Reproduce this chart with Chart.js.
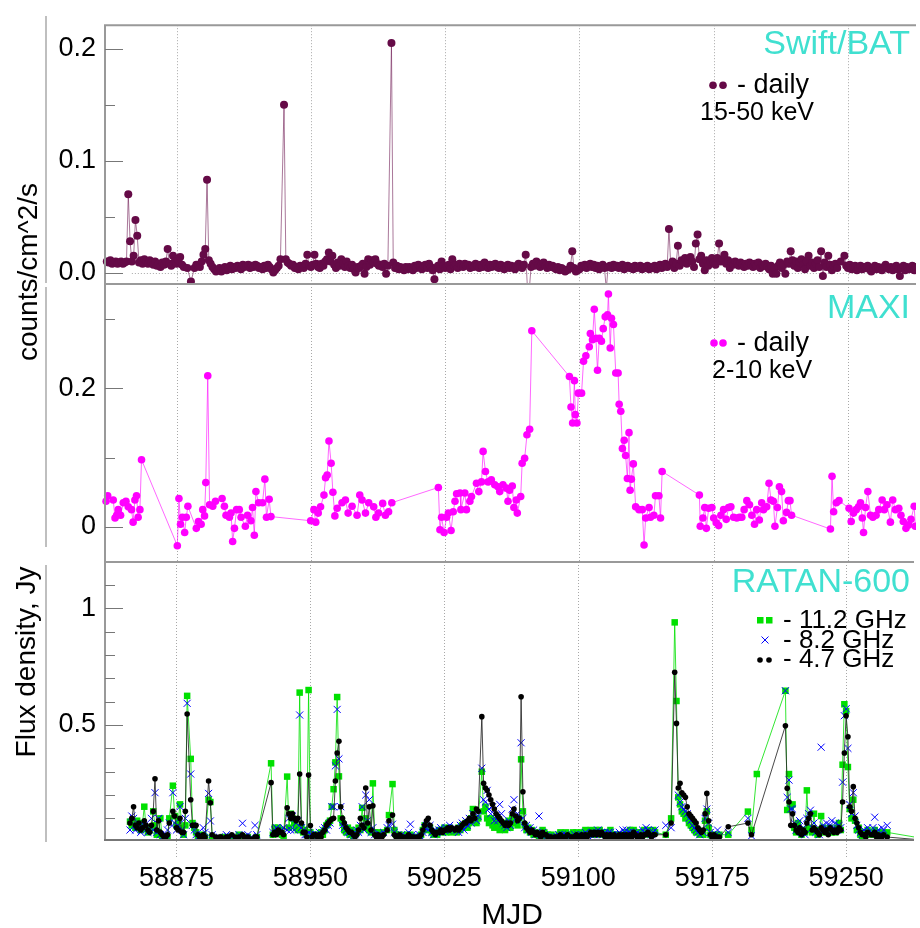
<!DOCTYPE html>
<html>
<head>
<meta charset="utf-8">
<script src="https://cdn.jsdelivr.net/npm/chart.js"></script>
<style>
  body { margin: 0; background: #fff; }
  #wrap { position: relative; width: 920px; height: 928px; }
  #wrap canvas { position: absolute; left: 0; top: 0; }
</style>
</head>
<body>
<div id="wrap">
  <canvas id="batCanvas" width="920" height="928"></canvas>
  <canvas id="maxiCanvas" width="920" height="928"></canvas>
  <canvas id="ratanCanvas" width="920" height="928"></canvas>
</div>
<script>
// Shared MJD axis.
var xMin = 58835;
var xMax = 59288;
var xTickValues = [58875, 58950, 59025, 59100, 59175, 59250];

// Y axis ticks of each panel.
var batMajor = [0, 0.1, 0.2];
var batLabels = ['0.0', '0.1', '0.2'];
var batMinor = [0.05, 0.15];
var maxiMajor = [0, 0.2];
var maxiLabels = ['0', '0.2'];
var maxiMinor = [0.1, 0.3];
var ratanMajor = [0.5, 1];
var ratanLabels = ['0.5', '1'];
var ratanMinor = [0.1, 0.2, 0.3, 0.4, 0.6, 0.7, 0.8, 0.9, 1.1];

// Swift/BAT 15-50 keV daily: [MJD, counts/cm^2/s]
var batPoints = [
  [58836, 0.010], [58837, 0.009], [58838, 0.011], [58839, 0.008], [58840, 0.009], [58841, 0.010], [58842, 0.008], [58843, 0.009],
  [58844, 0.010], [58845, 0.008], [58846, 0.009], [58847, 0.010], [58848, 0.070], [58849, 0.028], [58850, 0.010], [58851, 0.015],
  [58852, 0.047], [58853, 0.033], [58854, 0.009], [58855, 0.011], [58856, 0.008], [58857, 0.012], [58858, 0.010], [58859, 0.008],
  [58860, 0.011], [58861, 0.009], [58862, 0.007], [58863, 0.010], [58864, 0.006], [58865, 0.008], [58866, 0.005], [58867, 0.009],
  [58868, 0.007], [58869, 0.010], [58870, 0.021], [58871, 0.008], [58872, 0.006], [58873, 0.015], [58874, 0.010], [58875, 0.008],
  [58876, 0.011], [58877, 0.014], [58878, 0.007], [58879, 0.005], [58881, 0.004], [58883, -0.008], [58885, 0.004], [58886, 0.007],
  [58887, 0.006], [58888, 0.005], [58889, 0.010], [58890, 0.016], [58891, 0.021], [58892, 0.083], [58893, 0.011], [58894, 0.008],
  [58895, 0.005], [58896, 0.003], [58897, 0.001], [58898, 0.002], [58899, 0.004], [58900, 0.001], [58901, 0.003], [58902, 0.005],
  [58903, 0.002], [58904, 0.004], [58905, 0.006], [58906, 0.003], [58907, 0.005], [58908, 0.004], [58909, 0.006], [58910, 0.005],
  [58911, 0.003], [58912, 0.007], [58913, 0.005], [58914, 0.006], [58915, 0.007], [58916, 0.004], [58917, 0.006], [58918, 0.005],
  [58919, 0.007], [58920, 0.006], [58921, 0.004], [58922, 0.005], [58923, 0.003], [58924, 0.006], [58925, 0.004], [58926, 0.007],
  [58927, 0.005], [58928, 0.003], [58929, 0.000], [58930, 0.002], [58931, 0.004], [58932, 0.006], [58933, 0.012], [58935, 0.150],
  [58936, 0.012], [58937, 0.009], [58938, 0.008], [58939, 0.006], [58940, 0.007], [58941, 0.004], [58942, 0.005], [58943, 0.003],
  [58944, 0.006], [58945, 0.005], [58946, 0.004], [58947, 0.008], [58948, 0.016], [58949, 0.006], [58950, 0.005], [58951, 0.007],
  [58952, 0.016], [58953, 0.008], [58954, 0.005], [58955, 0.004], [58956, 0.008], [58957, 0.006], [58958, 0.010], [58959, 0.012],
  [58960, 0.018], [58961, 0.010], [58962, 0.015], [58963, 0.007], [58964, 0.004], [58965, 0.009], [58966, 0.006], [58967, 0.012],
  [58968, 0.008], [58969, 0.005], [58970, 0.010], [58971, 0.006], [58972, 0.004], [58973, 0.007], [58974, 0.003], [58975, 0.000],
  [58976, 0.005], [58977, 0.004], [58978, 0.006], [58979, 0.008], [58980, -0.001], [58981, 0.005], [58982, 0.012], [58983, 0.007],
  [58984, 0.011], [58985, 0.009], [58986, 0.012], [58987, 0.008], [58988, 0.006], [58989, 0.007], [58990, 0.005], [58991, 0.008],
  [58992, -0.001], [58993, 0.006], [58995, 0.205], [58996, 0.009], [58997, 0.004], [58998, 0.006], [58999, 0.003], [59000, 0.005],
  [59001, 0.004], [59002, 0.002], [59003, 0.005], [59004, 0.003], [59005, 0.005], [59006, 0.004], [59007, 0.002], [59008, 0.006],
  [59009, 0.004], [59010, 0.007], [59011, 0.005], [59012, 0.003], [59013, 0.006], [59014, 0.007], [59015, 0.004], [59016, 0.008],
  [59017, 0.005], [59018, 0.002], [59019, -0.006], [59020, 0.004], [59021, 0.006], [59022, 0.003], [59023, 0.010], [59024, 0.006],
  [59025, 0.004], [59026, 0.005], [59027, 0.007], [59028, 0.003], [59029, 0.012], [59030, 0.006], [59031, 0.007], [59032, 0.004],
  [59033, 0.008], [59034, 0.006], [59035, 0.005], [59036, 0.008], [59037, 0.006], [59038, 0.007], [59039, 0.004], [59040, 0.006],
  [59041, 0.005], [59042, 0.008], [59043, 0.006], [59044, 0.004], [59045, 0.007], [59046, 0.005], [59047, 0.009], [59048, 0.006],
  [59049, 0.004], [59050, 0.007], [59051, 0.005], [59052, 0.006], [59053, 0.008], [59054, 0.005], [59055, 0.004], [59056, 0.007],
  [59057, 0.006], [59058, 0.003], [59059, 0.005], [59060, 0.007], [59061, 0.004], [59062, 0.006], [59063, 0.005], [59064, 0.003],
  [59065, 0.006], [59066, 0.008], [59067, 0.005], [59068, 0.004], [59069, 0.007], [59070, 0.016], [59071, -0.015], [59072, -0.015],
  [59073, 0.005], [59074, 0.008], [59075, 0.006], [59076, 0.010], [59077, 0.007], [59078, 0.005], [59079, 0.008], [59080, 0.009],
  [59081, 0.006], [59082, 0.004], [59083, 0.007], [59084, 0.005], [59085, 0.006], [59086, 0.004], [59087, 0.003], [59088, 0.005],
  [59089, 0.002], [59090, 0.004], [59091, 0.003], [59092, 0.001], [59093, 0.002], [59094, 0.003], [59095, 0.006], [59096, 0.019],
  [59097, 0.004], [59098, 0.001], [59099, 0.002], [59100, 0.003], [59101, 0.006], [59102, 0.005], [59103, 0.007], [59104, 0.004],
  [59105, 0.006], [59106, 0.008], [59107, 0.005], [59108, 0.007], [59109, 0.004], [59110, 0.006], [59111, 0.003], [59112, 0.005],
  [59113, 0.007], [59114, 0.004], [59115, -0.015], [59116, 0.005], [59117, 0.006], [59118, 0.004], [59119, 0.007], [59120, 0.005],
  [59121, 0.006], [59122, 0.004], [59123, 0.005], [59124, 0.007], [59125, 0.003], [59126, 0.005], [59127, 0.006], [59128, 0.004],
  [59129, 0.005], [59130, 0.003], [59131, 0.006], [59132, 0.004], [59133, 0.005], [59134, 0.006], [59135, 0.003], [59136, 0.005],
  [59137, 0.004], [59138, 0.006], [59139, 0.003], [59140, 0.005], [59141, 0.004], [59142, 0.006], [59143, 0.003], [59144, 0.005],
  [59145, 0.007], [59146, 0.004], [59147, 0.006], [59148, 0.008], [59149, 0.005], [59150, 0.039], [59151, 0.007], [59152, 0.010],
  [59153, 0.004], [59154, 0.008], [59155, 0.024], [59156, 0.006], [59157, 0.011], [59158, 0.009], [59159, 0.013], [59160, 0.008],
  [59161, 0.012], [59162, 0.014], [59163, 0.010], [59164, 0.005], [59165, 0.026], [59166, 0.034], [59167, 0.012], [59168, 0.015],
  [59169, 0.008], [59170, 0.002], [59171, 0.011], [59172, 0.006], [59173, 0.010], [59174, 0.013], [59175, 0.009], [59176, 0.007],
  [59177, 0.013], [59178, 0.026], [59179, 0.010], [59180, 0.012], [59181, 0.016], [59182, 0.008], [59183, 0.011], [59184, 0.004],
  [59185, 0.009], [59186, 0.007], [59187, 0.010], [59188, 0.008], [59189, 0.006], [59190, 0.009], [59191, 0.007], [59192, 0.005],
  [59193, 0.008], [59194, 0.006], [59195, 0.009], [59196, 0.007], [59197, 0.005], [59198, 0.008], [59199, 0.006], [59200, 0.009],
  [59201, 0.004], [59202, 0.007], [59203, 0.006], [59204, 0.008], [59205, 0.005], [59206, 0.003], [59207, 0.006], [59208, -0.001],
  [59209, 0.004], [59210, -0.001], [59211, 0.006], [59212, 0.009], [59213, 0.004], [59214, 0.007], [59215, -0.001], [59216, 0.010],
  [59217, 0.008], [59218, 0.019], [59219, 0.011], [59220, 0.006], [59221, 0.010], [59222, 0.004], [59223, 0.009], [59224, 0.012],
  [59225, 0.007], [59226, 0.003], [59227, 0.010], [59228, 0.015], [59229, 0.006], [59230, 0.009], [59231, 0.004], [59232, 0.008],
  [59233, 0.011], [59234, 0.005], [59235, 0.019], [59236, -0.003], [59237, 0.009], [59238, 0.005], [59239, 0.015], [59240, 0.007],
  [59241, 0.002], [59242, 0.006], [59243, 0.008], [59244, 0.004], [59246, 0.010], [59248, 0.015], [59249, 0.006], [59250, 0.004],
  [59251, 0.007], [59252, 0.003], [59253, 0.005], [59254, 0.006], [59255, 0.002], [59256, 0.004], [59257, 0.006], [59258, 0.003],
  [59259, 0.005], [59260, 0.004], [59261, 0.006], [59262, 0.003], [59263, 0.001], [59264, 0.004], [59265, 0.006], [59266, 0.003],
  [59267, 0.005], [59268, 0.004], [59269, 0.002], [59270, 0.005], [59271, 0.007], [59272, 0.004], [59273, 0.003], [59274, 0.005],
  [59275, 0.002], [59276, 0.004], [59277, 0.006], [59278, 0.003], [59279, -0.003], [59280, 0.004], [59281, 0.006], [59282, 0.002],
  [59283, 0.005], [59284, 0.003], [59285, 0.004], [59286, 0.006], [59287, 0.002], [59288, 0.005]
];

// MAXI 2-10 keV daily: [MJD, counts/cm^2/s]
var maxiPoints = [
  [58835.6, 0.037], [58836.5, 0.045], [58839.6, 0.039], [58840.6, 0.013], [58841.5, 0.017], [58842.4, 0.025], [58843.7, 0.017],
  [58845.2, 0.035], [58846.7, 0.037], [58848.0, 0.029], [58849.8, 0.025], [58850.7, 0.007], [58851.7, 0.039], [58852.6, 0.045],
  [58853.5, 0.014], [58854.5, 0.025], [58855.4, 0.097], [58875.4, -0.027], [58876.3, 0.041], [58877.2, 0.004], [58878.2, 0.014],
  [58879.5, -0.008], [58880.4, 0.014], [58881.3, 0.030], [58886.0, -0.002], [58887.2, 0.008], [58888.7, 0.004], [58889.6, 0.025],
  [58890.6, 0.016], [58891.3, 0.064], [58892.4, 0.218], [58893.4, 0.032], [58895.2, 0.030], [58896.7, 0.037], [58900.4, 0.041],
  [58901.7, 0.030], [58902.6, 0.017], [58904.5, 0.014], [58905.4, 0.020], [58906.3, -0.021], [58907.3, -0.002], [58908.5, 0.025],
  [58910.0, 0.025], [58911.0, 0.014], [58913.4, 0.001], [58914.6, 0.017], [58916.5, 0.009], [58917.4, 0.028], [58918.4, -0.012],
  [58919.3, 0.051], [58920.8, 0.035], [58923.0, 0.035], [58924.3, 0.069], [58925.2, 0.014], [58926.7, 0.040], [58927.7, 0.015],
  [58949.9, 0.009], [58951.7, 0.025], [58952.7, 0.007], [58954.1, 0.020], [58955.4, 0.029], [58957.3, 0.046], [58958.2, 0.071],
  [58959.1, 0.075], [58960.1, 0.124], [58961.3, 0.092], [58962.3, 0.050], [58963.4, 0.016], [58964.7, 0.027], [58967.4, 0.035],
  [58969.3, 0.039], [58970.8, 0.020], [58973.0, 0.030], [58975.8, 0.017], [58977.3, 0.046], [58978.6, 0.039], [58980.5, 0.020],
  [58982.3, 0.035], [58985.1, 0.029], [58986.3, 0.014], [58987.8, 0.020], [58990.1, 0.034], [58991.6, 0.017], [58993.4, 0.022],
  [58995.2, 0.035], [59021.2, 0.057], [59022.1, -0.004], [59023.0, 0.014], [59024.4, -0.008], [59025.8, 0.014], [59026.8, 0.020],
  [59028.3, -0.005], [59029.5, 0.022], [59030.5, 0.037], [59031.4, 0.048], [59033.3, 0.049], [59033.8, 0.025], [59036.0, 0.049],
  [59036.9, 0.025], [59038.8, 0.037], [59039.7, 0.044], [59042.5, 0.063], [59043.8, 0.051], [59045.3, 0.065], [59046.2, 0.109],
  [59047.5, 0.080], [59049.0, 0.065], [59050.8, 0.068], [59052.7, 0.061], [59054.5, 0.058], [59055.5, 0.051], [59057.3, 0.061],
  [59059.2, 0.056], [59060.1, 0.037], [59061.0, 0.053], [59062.5, 0.059], [59063.4, 0.028], [59064.7, 0.039], [59065.3, 0.020],
  [59067.2, 0.044], [59068.0, 0.092], [59069.4, 0.099], [59070.7, 0.133], [59072.2, 0.141], [59073.4, 0.283], [59094.4, 0.217],
  [59095.3, 0.173], [59096.2, 0.150], [59097.2, 0.211], [59097.7, 0.162], [59098.6, 0.150], [59099.4, 0.193], [59101.2, 0.193],
  [59102.3, 0.239], [59103.6, 0.247], [59105.5, 0.260], [59106.1, 0.279], [59107.3, 0.270], [59108.3, 0.314], [59109.2, 0.272],
  [59110.1, 0.226], [59111.1, 0.272], [59112.3, 0.268], [59113.3, 0.286], [59114.4, 0.303], [59115.7, 0.306], [59116.2, 0.336],
  [59117.2, 0.258], [59117.9, 0.301], [59119.0, 0.292], [59120.3, 0.222], [59121.6, 0.222], [59122.2, 0.177], [59123.1, 0.167],
  [59124.0, 0.113], [59125.0, 0.125], [59125.8, 0.103], [59126.8, 0.070], [59127.7, 0.136], [59128.3, 0.053], [59129.0, 0.069],
  [59130.1, 0.091], [59131.4, 0.029], [59133.3, 0.025], [59135.1, 0.025], [59136.1, -0.026], [59137.0, 0.013], [59138.9, 0.028],
  [59139.7, 0.014], [59141.6, 0.017], [59142.5, 0.045], [59144.4, 0.045], [59145.3, 0.013], [59146.2, 0.080], [59167.0, 0.046],
  [59167.5, 0.001], [59169.0, 0.013], [59170.0, 0.028], [59170.9, -0.002], [59172.2, 0.027], [59174.0, 0.028], [59175.0, 0.013],
  [59176.4, 0.006], [59177.8, 0.002], [59179.0, 0.017], [59180.5, 0.025], [59182.0, 0.011], [59183.3, 0.028], [59184.6, 0.029],
  [59186.1, 0.014], [59187.9, 0.013], [59189.4, 0.014], [59190.7, 0.014], [59192.0, 0.025], [59193.5, 0.038], [59195.0, 0.032],
  [59196.3, 0.017], [59197.8, 0.004], [59199.0, 0.025], [59200.5, 0.010], [59201.8, 0.035], [59202.8, 0.025], [59204.6, 0.029],
  [59205.9, 0.063], [59207.0, 0.039], [59208.3, 0.037], [59209.2, 0.001], [59210.6, 0.028], [59211.7, 0.058], [59212.9, 0.051],
  [59213.9, 0.009], [59215.7, 0.021], [59216.7, 0.038], [59217.6, 0.038], [59218.5, 0.017], [59240.2, -0.003], [59241.1, 0.073],
  [59242.0, 0.022], [59243.5, 0.035], [59245.0, 0.038], [59250.6, 0.027], [59251.8, 0.008], [59253.1, 0.020], [59254.6, 0.025],
  [59255.9, 0.029], [59257.0, 0.035], [59258.0, 0.013], [59258.7, -0.008], [59259.8, 0.028], [59261.1, 0.051], [59262.6, 0.017],
  [59263.9, 0.014], [59265.7, 0.017], [59267.2, 0.025], [59269.1, 0.039], [59270.3, 0.025], [59271.8, 0.032], [59273.7, 0.007],
  [59275.0, 0.039], [59276.5, 0.025], [59278.4, 0.027], [59279.6, 0.017], [59280.9, 0.008], [59282.4, -0.002], [59283.9, 0.003],
  [59285.2, 0.011], [59287.0, 0.030], [59287.6, 0.001]
];

// RATAN-600 flux density, Jy: [MJD, 11.2 GHz, 8.2 GHz, 4.7 GHz]
var ratanRows = [
  [58849, 0.086, 0.05, 0.08], [58850, 0.07, 0.11, 0.10], [58851, 0.08, 0.10, 0.15], [58852, 0.06, 0.05, 0.07],
  [58853, 0.09, 0.07, 0.06], [58854, 0.07, 0.06, 0.08], [58855, 0.05, 0.04, 0.05], [58856, 0.08, 0.06, 0.06],
  [58857, 0.15, 0.07, 0.09], [58858, 0.06, 0.05, 0.07], [58859, 0.04, 0.04, 0.05], [58860, 0.05, 0.05, 0.04],
  [58861, 0.06, 0.10, 0.07], [58862, 0.13, 0.05, 0.13], [58863, 0.07, 0.21, 0.27], [58864, 0.03, 0.04, 0.05],
  [58865, 0.04, 0.10, 0.09], [58866, 0.10, 0.03, 0.04], [58867, 0.02, 0.02, 0.03], [58868, 0.02, 0.02, 0.02],
  [58869, 0.02, 0.03, 0.02], [58870, 0.02, 0.05, 0.03], [58871, 0.10, 0.08, 0.08], [58873, 0.24, 0.21, 0.13],
  [58874, 0.11, 0.08, 0.11], [58875, 0.07, 0.05, 0.06], [58876, 0.09, 0.07, 0.05], [58877, 0.16, 0.15, 0.10],
  [58878, 0.06, 0.05, 0.04], [58879, 0.03, 0.03, 0.04], [58880, 0.07, 0.10, 0.13], [58881, 0.625, 0.593, 0.547],
  [58883, 0.355, 0.29, 0.18], [58884, 0.08, 0.07, 0.07], [58885, 0.06, 0.05, 0.07], [58886, 0.04, 0.03, 0.07],
  [58887, 0.02, 0.02, 0.03], [58888, 0.01, 0.02, 0.02], [58889, 0.02, 0.03, 0.02], [58890, 0.03, 0.06, 0.03],
  [58891, 0.02, 0.04, 0.02], [58893, 0.18, 0.207, 0.26], [58894, 0.17, 0.089, 0.167], [58895, 0.02, 0.03, 0.03],
  [58897, 0.01, 0.01, 0.02], [58899, 0.01, 0.02, 0.02], [58900, 0.01, 0.01, 0.02], [58901, 0.02, 0.01, 0.01],
  [58903, 0.01, 0.03, 0.02], [58904, 0.02, 0.02, 0.02], [58906, 0.01, 0.02, 0.03], [58908, 0.01, 0.01, 0.02],
  [58910, 0.03, 0.03, 0.02], [58912, 0.02, 0.079, 0.03], [58913, 0.01, 0.02, 0.02], [58915, 0.02, 0.03, 0.02],
  [58917, 0.01, 0.02, 0.01], [58919, 0.01, 0.07, 0.02], [58920, 0.02, 0.03, 0.02], [58928, 0.336, null, 0.253],
  [58929, 0.03, 0.04, 0.03], [58930, 0.06, 0.05, 0.04], [58931, 0.05, 0.06, 0.03], [58932, 0.06, 0.05, 0.05],
  [58933, 0.05, 0.04, 0.04], [58934, 0.03, 0.05, 0.04], [58935, 0.02, 0.06, 0.03], [58937, 0.279, 0.05, 0.145],
  [58938, 0.06, 0.10, 0.12], [58939, 0.12, 0.05, 0.10], [58940, 0.10, 0.11, 0.12], [58941, 0.08, 0.05, 0.10],
  [58942, 0.06, 0.08, 0.09], [58943, 0.05, 0.09, 0.10], [58944, 0.639, 0.543, 0.29], [58945, 0.06, 0.06, 0.08],
  [58946, 0.04, 0.05, 0.04], [58947, 0.05, 0.03, 0.04], [58948, 0.03, 0.03, 0.02], [58949, 0.65, 0.04, 0.286],
  [58950, 0.04, 0.03, 0.069], [58951, 0.02, 0.03, 0.02], [58952, 0.03, 0.02, 0.03], [58953, 0.02, 0.03, 0.03],
  [58954, 0.03, 0.02, 0.02], [58955, 0.02, 0.04, 0.03], [58956, 0.04, 0.02, 0.02], [58957, 0.03, 0.05, 0.04],
  [58958, 0.05, 0.06, 0.05], [58959, 0.07, 0.05, 0.07], [58960, 0.08, 0.07, 0.08], [58961, 0.09, 0.08, 0.09],
  [58962, 0.15, 0.15, 0.097], [58963, 0.225, 0.15, 0.10], [58964, 0.34, 0.325, 0.26], [58965, 0.62, 0.567, 0.38],
  [58966, 0.28, 0.355, 0.43], [58967, 0.10, 0.15, 0.15], [58968, 0.08, 0.07, 0.10], [58969, 0.05, 0.06, 0.08],
  [58970, 0.04, 0.05, 0.06], [58971, 0.06, 0.04, 0.05], [58972, 0.03, 0.04, 0.04], [58973, 0.05, 0.03, 0.04],
  [58974, 0.02, 0.02, 0.03], [58975, 0.03, 0.03, 0.02], [58976, 0.04, 0.05, 0.03], [58977, 0.06, 0.04, 0.05],
  [58978, 0.05, 0.07, 0.10], [58979, 0.145, 0.15, 0.07], [58980, 0.06, 0.05, 0.06], [58981, 0.10, 0.20, 0.23],
  [58982, 0.07, 0.09, 0.08], [58983, 0.05, 0.18, 0.15], [58984, 0.04, 0.04, 0.05], [58985, 0.25, 0.06, 0.154],
  [58986, 0.04, 0.03, 0.03], [58987, 0.03, 0.02, 0.02], [58988, 0.04, 0.03, 0.03], [58989, 0.02, 0.03, 0.02],
  [58990, 0.03, 0.02, 0.02], [58991, 0.04, 0.04, 0.03], [58993, 0.05, 0.06, 0.05], [58994, 0.114, 0.07, 0.09],
  [58996, 0.247, 0.075, 0.114], [58997, 0.05, 0.04, 0.03], [58998, 0.03, 0.02, 0.02], [58999, 0.02, 0.03, 0.02],
  [59000, 0.03, 0.02, 0.03], [59001, 0.02, 0.03, 0.02], [59002, 0.01, 0.02, 0.02], [59003, 0.02, 0.01, 0.01],
  [59004, 0.03, 0.02, 0.02], [59005, 0.02, 0.04, 0.03], [59006, 0.03, 0.075, 0.02], [59007, 0.02, 0.03, 0.02],
  [59008, 0.01, 0.02, 0.02], [59009, 0.02, 0.01, 0.01], [59010, 0.02, 0.02, 0.02], [59011, 0.01, 0.03, 0.02],
  [59012, 0.03, 0.02, 0.03], [59013, 0.05, 0.04, 0.05], [59014, 0.07, 0.06, 0.07], [59015, 0.05, 0.07, 0.09],
  [59016, 0.06, 0.05, 0.10], [59017, 0.06, 0.07, 0.07], [59018, 0.04, 0.04, 0.05], [59019, 0.03, 0.03, 0.04],
  [59020, 0.04, 0.05, 0.03], [59021, 0.03, 0.04, 0.04], [59022, 0.05, 0.05, 0.04], [59023, 0.04, 0.06, 0.05],
  [59024, 0.05, 0.04, 0.04], [59025, 0.06, 0.05, 0.05], [59026, 0.04, 0.06, 0.05], [59027, 0.05, 0.05, 0.06],
  [59028, 0.06, 0.07, 0.05], [59029, 0.04, 0.05, 0.06], [59031, 0.05, 0.06, 0.05], [59032, 0.04, 0.05, 0.06],
  [59033, 0.06, 0.04, 0.05], [59034, 0.05, 0.07, 0.06], [59035, 0.07, 0.08, 0.07], [59036, 0.06, 0.05, 0.08],
  [59037, 0.08, 0.09, 0.08], [59038, 0.06, 0.07, 0.09], [59039, 0.08, 0.10, 0.10], [59040, 0.10, 0.08, 0.09],
  [59041, 0.14, 0.12, 0.12], [59042, 0.09, 0.10, 0.10], [59043, 0.08, 0.09, 0.14], [59044, 0.10, 0.11, 0.13],
  [59046, 0.30, 0.315, 0.536], [59047, 0.13, 0.18, 0.25], [59048, 0.15, 0.17, 0.23], [59049, 0.10, 0.22, 0.22],
  [59050, 0.08, 0.14, 0.20], [59051, 0.10, 0.12, 0.18], [59052, 0.07, 0.15, 0.16], [59053, 0.06, 0.09, 0.14],
  [59054, 0.09, 0.11, 0.12], [59055, 0.07, 0.09, 0.11], [59056, 0.05, 0.16, 0.10], [59057, 0.08, 0.12, 0.09],
  [59058, 0.06, 0.08, 0.08], [59059, 0.05, 0.07, 0.07], [59060, 0.08, 0.06, 0.08], [59061, 0.09, 0.09, 0.07],
  [59062, 0.06, 0.07, 0.08], [59063, 0.10, 0.14, 0.12], [59064, 0.08, 0.18, 0.14], [59065, 0.09, 0.10, 0.11],
  [59066, 0.07, 0.12, 0.09], [59067, 0.10, 0.09, 0.10], [59068, 0.353, 0.424, 0.621], [59069, 0.13, 0.10, 0.214],
  [59070, 0.07, 0.06, 0.08], [59071, 0.05, 0.07, 0.06], [59072, 0.06, 0.05, 0.05], [59073, 0.04, 0.06, 0.04],
  [59074, 0.05, 0.04, 0.05], [59075, 0.03, 0.05, 0.04], [59076, 0.04, 0.03, 0.03], [59077, 0.03, 0.04, 0.04],
  [59078, 0.02, 0.11, 0.03], [59079, 0.03, 0.03, 0.02], [59080, 0.05, 0.04, 0.04], [59081, 0.04, 0.03, 0.03],
  [59082, 0.02, 0.02, 0.03], [59083, 0.03, 0.02, 0.02], [59084, 0.02, 0.01, 0.02], [59085, 0.03, 0.02, 0.02],
  [59086, 0.02, 0.02, 0.01], [59087, 0.01, 0.01, 0.02], [59088, 0.02, 0.02, 0.02], [59089, 0.03, 0.03, 0.02],
  [59090, 0.04, 0.02, 0.03], [59091, 0.02, 0.03, 0.02], [59092, 0.03, 0.02, 0.02], [59093, 0.04, 0.03, 0.02],
  [59094, 0.03, 0.02, 0.03], [59096, 0.02, 0.01, 0.02], [59097, 0.04, 0.02, 0.02], [59098, 0.03, 0.03, 0.02],
  [59099, 0.04, 0.02, 0.03], [59100, 0.03, 0.03, 0.02], [59101, 0.02, 0.02, 0.02], [59102, 0.04, 0.03, 0.03],
  [59103, 0.03, 0.02, 0.02], [59104, 0.05, 0.04, 0.03], [59105, 0.04, 0.03, 0.02], [59106, 0.03, 0.02, 0.03],
  [59107, 0.05, 0.03, 0.04], [59108, 0.04, 0.04, 0.03], [59109, 0.03, 0.03, 0.04], [59110, 0.05, 0.04, 0.03],
  [59111, 0.04, 0.05, 0.04], [59112, 0.05, 0.03, 0.03], [59113, 0.03, 0.04, 0.04], [59114, 0.04, 0.03, 0.03],
  [59115, 0.03, 0.04, 0.02], [59116, 0.04, 0.03, 0.03], [59117, 0.03, 0.04, 0.02], [59118, 0.05, 0.04, 0.03],
  [59119, 0.03, 0.03, 0.02], [59120, 0.02, 0.03, 0.03], [59121, 0.03, 0.02, 0.02], [59122, 0.02, 0.03, 0.02],
  [59123, 0.03, 0.04, 0.03], [59124, 0.02, 0.03, 0.02], [59125, 0.03, 0.05, 0.03], [59126, 0.02, 0.04, 0.02],
  [59127, 0.04, 0.05, 0.03], [59128, 0.03, 0.04, 0.02], [59129, 0.05, 0.04, 0.03], [59130, 0.04, 0.03, 0.02],
  [59131, 0.05, 0.04, 0.04], [59132, 0.03, 0.03, 0.03], [59133, 0.04, 0.04, 0.02], [59134, 0.03, 0.02, 0.02],
  [59135, 0.04, 0.03, 0.03], [59136, 0.03, 0.05, 0.02], [59137, 0.05, 0.04, 0.03], [59138, 0.04, 0.06, 0.03],
  [59139, 0.05, 0.05, 0.04], [59140, 0.03, 0.04, 0.03], [59141, 0.04, 0.03, 0.02], [59142, 0.05, 0.04, 0.03],
  [59143, 0.04, 0.05, 0.03], [59149, 0.03, 0.07, 0.03], [59152, 0.10, 0.06, 0.08], [59154, 0.94, null, 0.726],
  [59155, 0.603, null, 0.507], [59156, 0.19, 0.20, 0.23], [59157, 0.16, 0.17, 0.25], [59158, 0.13, 0.15, 0.21],
  [59159, 0.12, 0.14, 0.20], [59160, 0.10, 0.13, 0.19], [59161, 0.11, 0.12, 0.15], [59162, 0.08, 0.10, 0.12],
  [59163, 0.07, 0.09, 0.11], [59164, 0.06, 0.07, 0.10], [59165, 0.05, 0.06, 0.09], [59166, 0.04, 0.05, 0.08],
  [59167, 0.05, 0.04, 0.06], [59168, 0.03, 0.03, 0.05], [59169, 0.04, 0.05, 0.04], [59170, 0.03, 0.04, 0.05],
  [59171, 0.09, 0.10, 0.12], [59172, 0.13, 0.14, 0.207], [59173, 0.06, 0.08, 0.09], [59174, 0.03, 0.04, 0.03],
  [59175, 0.02, 0.03, 0.02], [59176, 0.02, 0.02, 0.03], [59177, 0.03, 0.03, 0.02], [59178, 0.02, 0.05, 0.02],
  [59179, 0.03, 0.02, 0.02], [59184, 0.03, 0.04, 0.064], [59195, 0.129, 0.10, 0.08], [59197, 0.05, 0.025, 0.03],
  [59200, 0.29, null, null], [59216, 0.647, 0.647, 0.497], [59217, 0.136, 0.19, 0.229], [59218, 0.29, 0.264, 0.17],
  [59219, 0.15, 0.14, 0.07], [59220, 0.16, 0.14, 0.12], [59221, 0.06, 0.08, 0.07], [59222, 0.04, 0.05, 0.05],
  [59223, 0.08, 0.06, 0.04], [59224, 0.05, 0.09, 0.06], [59225, 0.03, 0.04, 0.03], [59226, 0.05, 0.06, 0.05],
  [59227, 0.04, 0.03, 0.04], [59228, 0.22, 0.10, 0.08], [59229, 0.06, 0.12, 0.10], [59230, 0.05, 0.135, 0.12],
  [59231, 0.04, 0.06, 0.05], [59232, 0.12, 0.08, 0.06], [59233, 0.05, 0.04, 0.05], [59234, 0.03, 0.05, 0.04],
  [59235, 0.04, 0.03, 0.03], [59236, 0.11, 0.405, 0.06], [59237, 0.06, 0.07, 0.05], [59238, 0.04, 0.06, 0.04],
  [59239, 0.05, 0.08, 0.05], [59240, 0.04, 0.05, 0.03], [59241, 0.06, 0.07, 0.06], [59242, 0.04, 0.09, 0.05],
  [59243, 0.05, 0.06, 0.04], [59244, 0.04, 0.08, 0.05], [59245, 0.06, 0.05, 0.04], [59246, 0.08, 0.07, 0.06],
  [59247, 0.05, 0.06, 0.05], [59248, 0.33, 0.255, 0.17], [59249, 0.589, 0.54, 0.38], [59250, 0.56, 0.57, 0.54],
  [59251, 0.32, 0.40, 0.45], [59252, 0.14, 0.16, 0.15], [59253, 0.10, 0.12, 0.13], [59254, 0.18, 0.21, 0.236],
  [59255, 0.09, 0.11, 0.10], [59256, 0.05, 0.07, 0.08], [59257, 0.06, 0.05, 0.06], [59258, 0.03, 0.04, 0.04],
  [59259, 0.02, 0.03, 0.03], [59260, 0.04, 0.05, 0.03], [59261, 0.03, 0.02, 0.02], [59262, 0.05, 0.06, 0.04],
  [59264, 0.03, 0.04, 0.03], [59265, 0.04, 0.06, 0.03], [59266, 0.05, 0.105, 0.04], [59267, 0.03, 0.04, 0.02],
  [59268, 0.04, 0.05, 0.03], [59269, 0.02, 0.03, 0.02], [59270, 0.03, 0.06, 0.02], [59271, 0.04, 0.05, 0.03],
  [59273, 0.04, 0.07, 0.02], [59296, 0.01, null, 0.005]
];

var fontFamily = '"Liberation Sans", Arial, Helvetica, sans-serif';
var titleColor = '#40e0d0';
var batColor = '#650a47';
var maxiColor = '#ff00ff';
var greenColor = '#00e000';
var blueColor = '#0000ff';
var blackColor = '#000000';

Chart.defaults.font.family = fontFamily;
Chart.defaults.color = '#000';

/**
 * @description Points of one column of a table, skipping empty cells.
 */
function columnPoints(rows, col) {
  return rows
    .filter(function (row) { return row[col] !== null; })
    .map(function (row) { return { x: row[0], y: row[col] }; });
}

function pairPoints(pairs) {
  return pairs.map(function (p) { return { x: p[0], y: p[1] }; });
}

function hLine(ctx, x1, x2, y) {
  ctx.beginPath();
  ctx.moveTo(x1, y);
  ctx.lineTo(x2, y);
  ctx.stroke();
}

function vLine(ctx, x, y1, y2) {
  ctx.beginPath();
  ctx.moveTo(x, y1);
  ctx.lineTo(x, y2);
  ctx.stroke();
}

function dot(ctx, x, y, r, color) {
  ctx.fillStyle = color;
  ctx.beginPath();
  ctx.arc(x, y, r, 0, Math.PI * 2);
  ctx.fill();
}

/**
 * @description Grid, frame, inward ticks, panel title and legend.
 */
var panelPlugin = {
  id: 'panelDecor',
  beforeDatasetsDraw: function (chart, args, opts) {
    var ctx = chart.ctx;
    var area = chart.chartArea;
    var xScale = chart.scales.x;
    ctx.save();
    ctx.strokeStyle = '#a8a8a8';
    ctx.lineWidth = 1;
    ctx.setLineDash([1, 2]);
    xTickValues.forEach(function (v) {
      var x = Math.round(xScale.getPixelForValue(v)) + 0.5;
      vLine(ctx, x, area.top, area.bottom + (opts.gridExtra || 0));
    });
    if (opts.zeroFrom) {
      var y0 = Math.round(chart.scales.y.getPixelForValue(0)) + 0.5;
      hLine(ctx, xScale.getPixelForValue(opts.zeroFrom), area.right, y0);
    }
    ctx.restore();
  },
  afterDraw: function (chart, args, opts) {
    var ctx = chart.ctx;
    var area = chart.chartArea;
    var yScale = chart.scales.y;
    ctx.save();

    // Frame.
    ctx.strokeStyle = '#999';
    ctx.lineWidth = 2;
    hLine(ctx, area.left - 1, area.right, area.top);
    vLine(ctx, area.left, area.top, area.bottom);
    if (opts.bottomLine) {
      ctx.strokeStyle = '#777';
      hLine(ctx, area.left - 1, area.right, area.bottom);
    }

    // Inward ticks.
    ctx.strokeStyle = '#777';
    ctx.lineWidth = 1;
    opts.major.forEach(function (v) {
      var y = Math.round(yScale.getPixelForValue(v)) + 0.5;
      hLine(ctx, area.left, area.left + 18, y);
    });
    opts.minor.forEach(function (v) {
      var y = Math.round(yScale.getPixelForValue(v)) + 0.5;
      hLine(ctx, area.left, area.left + 10, y);
    });

    // Panel title.
    ctx.fillStyle = titleColor;
    ctx.font = '34px ' + fontFamily;
    ctx.textAlign = 'right';
    ctx.textBaseline = 'alphabetic';
    ctx.fillText(opts.title, 910, area.top + opts.titleDy);

    if (opts.legend) {
      opts.legend(ctx, area);
    }
    ctx.restore();
  }
};

/**
 * @description Axis titles shared by the panels.
 */
var pagePlugin = {
  id: 'pageDecor',
  afterDraw: function (chart) {
    var ctx = chart.ctx;
    ctx.save();
    ctx.strokeStyle = '#aaa';
    ctx.lineWidth = 1.5;
    vLine(ctx, 46, 16, 283);
    vLine(ctx, 46, 287, 547);
    vLine(ctx, 46, 565, 842);

    ctx.fillStyle = '#000';
    ctx.font = '28px ' + fontFamily;
    ctx.textAlign = 'center';
    ctx.textBaseline = 'alphabetic';
    ctx.save();
    ctx.translate(37, 272);
    ctx.rotate(-Math.PI / 2);
    ctx.fillText('counts/cm^2/s', 0, 0);
    ctx.restore();
    ctx.save();
    ctx.translate(35, 662);
    ctx.rotate(-Math.PI / 2);
    ctx.fillText('Flux density, Jy', 0, 0);
    ctx.restore();

    ctx.font = '30px ' + fontFamily;
    ctx.fillText('MJD', 512, 924);
    ctx.restore();
  }
};

function yAxis(min, max, major, labels) {
  return {
    type: 'linear',
    position: 'left',
    min: min,
    max: max,
    afterFit: function (scale) { scale.width = 105; },
    afterBuildTicks: function (scale) {
      scale.ticks = major.map(function (v) { return { value: v }; });
    },
    grid: { display: false, drawTicks: false },
    border: { display: false },
    ticks: {
      autoSkip: false,
      padding: 9,
      color: '#000',
      font: { size: 27 },
      callback: function (value, index) { return labels[index]; }
    }
  };
}

function xAxis(showLabels) {
  return {
    type: 'linear',
    position: 'bottom',
    min: xMin,
    max: xMax,
    display: showLabels,
    afterFit: function (scale) { scale.height = showLabels ? 88 : 0; },
    afterBuildTicks: function (scale) {
      scale.ticks = xTickValues.map(function (v) { return { value: v }; });
    },
    grid: { display: false, drawTicks: false },
    border: { display: false },
    ticks: {
      autoSkip: false,
      maxRotation: 0,
      padding: 22,
      color: '#000',
      font: { size: 27 },
      callback: function (value) { return String(value); }
    }
  };
}

function makePanel(canvasId, padTop, padBottom, datasets, yScale, showX, decor, extraPlugins) {
  return new Chart(document.getElementById(canvasId), {
    type: 'line',
    data: { datasets: datasets },
    options: {
      responsive: false,
      animation: false,
      devicePixelRatio: 1,
      layout: { padding: { top: padTop, bottom: padBottom, left: 0, right: 0 } },
      scales: { x: xAxis(showX), y: yScale },
      plugins: {
        legend: { display: false },
        tooltip: { enabled: false },
        panelDecor: decor
      }
    },
    plugins: [panelPlugin].concat(extraPlugins || [])
  });
}

// Swift/BAT panel.
makePanel('batCanvas', 5, 644, [{
  data: pairPoints(batPoints),
  borderColor: 'rgba(101,10,71,0.55)',
  borderWidth: 1,
  pointRadius: 4,
  pointBackgroundColor: batColor,
  pointBorderWidth: 0,
  clip: { left: 4, top: 0, right: 0, bottom: 0 }
}], yAxis(-0.0102, 0.221, batMajor, batLabels), false, {
  major: batMajor,
  minor: batMinor,
  title: 'Swift/BAT',
  titleDy: 29,
  zeroFrom: 58850,
  legend: function (ctx, area) {
    dot(ctx, 713, area.top + 60, 3.8, batColor);
    dot(ctx, 723, area.top + 60, 3.8, batColor);
    ctx.fillStyle = '#000';
    ctx.textAlign = 'left';
    ctx.font = '27px ' + fontFamily;
    ctx.fillText('- daily', 737, area.top + 68);
    ctx.font = '25px ' + fontFamily;
    ctx.fillText('15-50 keV', 700, area.top + 95);
  }
});

// MAXI panel.
makePanel('maxiCanvas', 284, 366, [{
  data: pairPoints(maxiPoints),
  borderColor: 'rgba(255,0,255,0.6)',
  borderWidth: 1,
  pointRadius: 3.8,
  pointBackgroundColor: maxiColor,
  pointBorderWidth: 0,
  clip: { left: 4, top: 0, right: 0, bottom: 0 }
}], yAxis(-0.0505, 0.3504, maxiMajor, maxiLabels), false, {
  major: maxiMajor,
  minor: maxiMinor,
  title: 'MAXI',
  titleDy: 34,
  legend: function (ctx, area) {
    dot(ctx, 714, area.top + 59, 3.8, maxiColor);
    dot(ctx, 723, area.top + 59, 3.8, maxiColor);
    ctx.fillStyle = '#000';
    ctx.textAlign = 'left';
    ctx.font = '27px ' + fontFamily;
    ctx.fillText('- daily', 737, area.top + 67);
    ctx.font = '25px ' + fontFamily;
    ctx.fillText('2-10 keV', 712, area.top + 94);
  }
});

// RATAN-600 panel: lower order is drawn on top, so 4.7 GHz comes last.
makePanel('ratanCanvas', 562, 0, [{
  data: columnPoints(ratanRows, 1),
  order: 3,
  borderColor: 'rgba(0,224,0,0.8)',
  borderWidth: 1,
  pointStyle: 'rect',
  pointRadius: 4.6,
  pointBackgroundColor: greenColor,
  pointBorderWidth: 0,
  clip: { left: 4, top: 0, right: 0, bottom: 0 }
}, {
  data: columnPoints(ratanRows, 2),
  order: 2,
  showLine: false,
  pointStyle: 'crossRot',
  pointRadius: 5,
  pointBorderColor: blueColor,
  pointBorderWidth: 1,
  clip: { left: 4, top: 0, right: 0, bottom: 0 }
}, {
  data: columnPoints(ratanRows, 3),
  order: 1,
  borderColor: 'rgba(40,40,40,0.85)',
  borderWidth: 1,
  pointRadius: 2.8,
  pointBackgroundColor: blackColor,
  pointBorderWidth: 0,
  clip: { left: 4, top: 0, right: 0, bottom: 0 }
}], yAxis(0.0073, 1.1987, ratanMajor, ratanLabels), true, {
  major: ratanMajor,
  minor: ratanMinor,
  title: 'RATAN-600',
  titleDy: 30,
  gridExtra: 17,
  bottomLine: true,
  legend: function (ctx, area) {
    ctx.fillStyle = greenColor;
    ctx.fillRect(757, area.top + 55, 6.5, 6.5);
    ctx.fillRect(766, area.top + 55, 6.5, 6.5);
    ctx.strokeStyle = blueColor;
    ctx.lineWidth = 1;
    ctx.beginPath();
    ctx.moveTo(761.5, area.top + 74.5); ctx.lineTo(768.5, area.top + 81.5);
    ctx.moveTo(768.5, area.top + 74.5); ctx.lineTo(761.5, area.top + 81.5);
    ctx.stroke();
    dot(ctx, 760, area.top + 98, 2.8, blackColor);
    dot(ctx, 769, area.top + 98, 2.8, blackColor);
    ctx.fillStyle = '#000';
    ctx.textAlign = 'left';
    ctx.font = '26px ' + fontFamily;
    ctx.fillText('- 11.2 GHz', 783, area.top + 66);
    ctx.fillText('- 8.2 GHz', 783, area.top + 86);
    ctx.fillText('- 4.7 GHz', 783, area.top + 105);
  }
}, [pagePlugin]);
</script>
</body>
</html>
